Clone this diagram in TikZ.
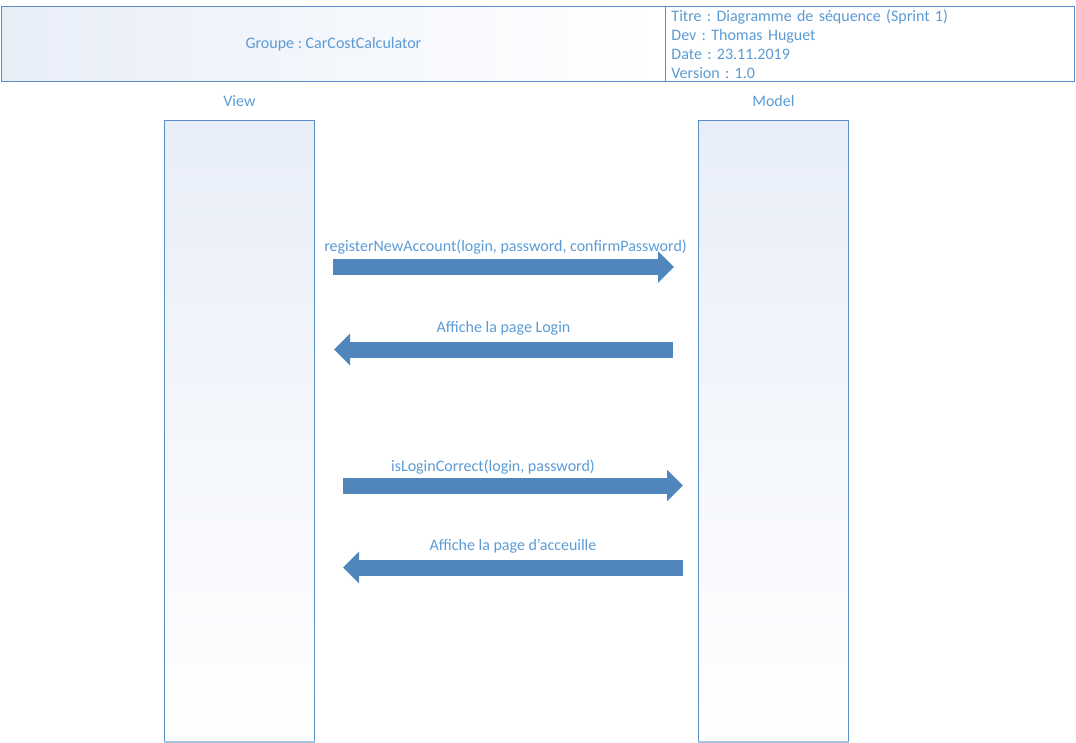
\documentclass[tikz,border=0pt]{standalone}
\usepackage{fontspec}
\setmainfont{Carlito}
\usepackage{xcolor}
\usepackage{tikz}
\usetikzlibrary{positioning}
\usetikzlibrary{arrows.meta}
\frenchspacing

\definecolor{ramka}{RGB}{91,142,201}
\definecolor{napis}{RGB}{91,155,213}
\definecolor{strzalka}{RGB}{80,134,188}
\definecolor{tlo}{RGB}{232,238,248}
\definecolor{cien}{RGB}{165,194,224}

\begin{document}
\begin{tikzpicture}[x=1pt,y=-1pt,
		font=\fontsize{16}{19}\selectfont, text=napis,
		pole/.style={draw=ramka, line width=0.9pt, minimum height=75pt, anchor=north west},
		zycie/.style={draw=ramka, line width=0.9pt, top color=tlo, bottom color=white!98!tlo,
			minimum width=150pt, minimum height=621pt, anchor=north west},
		komunikat/.style={draw=strzalka, line width=16pt,
			-{Triangle[length=16pt,width=31pt]}}]
		\useasboundingbox (0,0) rectangle (1076,743);
		% naglowek
		\node[pole, minimum width=664pt, left color=tlo, right color=white] (grupa) at (1,6) {Groupe : CarCostCalculator};
		\node[pole, minimum width=409pt, text width=397pt, align=left, inner xsep=6pt,
			left color=white, right color=white] (opis) at (665,6) {Titre : Diagramme de séquence (Sprint 1)\\
			Dev : Thomas Huguet\\
			Date : 23.11.2019\\
			Version : 1.0};
		% linie zycia
		\node[zycie] (widok) at (164,120) {};
		\node[zycie] (model) at (698,120) {};
		\draw[cien, line width=1.5pt] (widok.south west) -- (widok.south east);
		\draw[cien, line width=1.5pt] (model.south west) -- (model.south east);
		\node[above=10pt of widok] (widoklbl) {View};
		\node[above=10pt of model] (modellbl) {Model};
		% komunikaty
		\coordinate (w1) at (333,267);
		\coordinate (m1) at (674,267);
		\coordinate (m2) at (673,349.5);
		\coordinate (w2) at (334,349.5);
		\coordinate (w3) at (343,485.5);
		\coordinate (m3) at (683,485.5);
		\coordinate (m4) at (683,567.5);
		\coordinate (w4) at (343,567.5);
		\path[komunikat] (w1) -- (m1) node[midway, above=1pt, xshift=2pt] (k1) {registerNewAccount(login, password, confirmPassword)};
		\path[komunikat] (m2) -- (w2) node[midway, above=3pt] (k2) {Affiche la page Login};
		\path[komunikat] (w3) -- (m3) node[midway, above=0pt, xshift=-20pt] (k3) {isLoginCorrect(login, password)};
		\path[komunikat] (m4) -- (w4) node[midway, above=3pt] (k4) {Affiche la page d’acceuille};
	\end{tikzpicture}
\end{document}
